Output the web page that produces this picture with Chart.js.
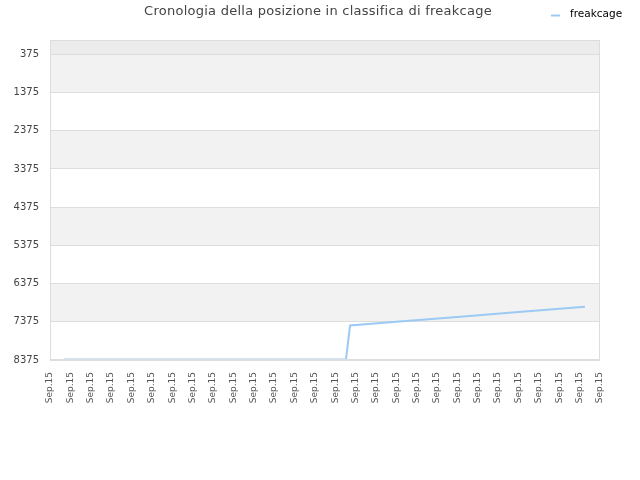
<!DOCTYPE html>
<html>
<head>
<meta charset="utf-8">
<script src="https://cdn.jsdelivr.net/npm/chart.js@4"></script>
<style>
html,body{margin:0;padding:0;background:#fff;}
#wrap{width:640px;height:480px;}
</style>
</head>
<body>
<div id="wrap"><canvas id="c" width="640" height="480"></canvas></div>
<script>
const chartTitle = "Cronologia della posizione in classifica di freakcage";
const seriesName = "freakcage";
const xLabels = ["Sep.15","Sep.15","Sep.15","Sep.15","Sep.15","Sep.15","Sep.15","Sep.15","Sep.15","Sep.15","Sep.15","Sep.15","Sep.15","Sep.15","Sep.15","Sep.15","Sep.15","Sep.15","Sep.15","Sep.15","Sep.15","Sep.15","Sep.15","Sep.15","Sep.15","Sep.15","Sep.15","Sep.15"];
const yTicks = [375,1375,2375,3375,4375,5375,6375,7375,8375];
const pointX = [0.69, 4, 8, 12, 14.53, 14.73, 17, 20, 23, 26.26];
const pointRank = [8360, 8360, 8360, 8360, 8360, 7473, 7375, 7250, 7120, 6982];

const lineColor = '#9ccaf5';
const data = pointX.map((x,i)=>({x:x,y:pointRank[i]}));

const bandsPlugin = {
  id:'bands',
  beforeDraw(chart){
    const {ctx, chartArea:a, scales:{y}} = chart;
    ctx.save();
    const t0 = y.getPixelForValue(yTicks[0]);
    ctx.fillStyle = '#ececec';
    ctx.fillRect(a.left, a.top, a.right-a.left, t0-a.top);
    for(let i=0;i<yTicks.length-1;i++){
      if(i%2===0){
        const p1 = y.getPixelForValue(yTicks[i]);
        const p2 = y.getPixelForValue(yTicks[i+1]);
        ctx.fillStyle = '#f2f2f2';
        ctx.fillRect(a.left, p1, a.right-a.left, p2-p1);
      }
    }
    ctx.restore();
  }
};
const textPlugin = {
  id:'ctext',
  afterDraw(chart){
    const ctx = chart.ctx;
    const a = chart.chartArea;
    const xs = chart.scales.x;
    ctx.save();
    ctx.font = '13px "DejaVu Sans"';
    ctx.fillStyle = '#444';
    ctx.textAlign = 'center';
    ctx.textBaseline = 'middle';
    if ('letterSpacing' in ctx) ctx.letterSpacing = '0.25px';
    ctx.fillText(chartTitle, 318, 12);
    ctx.restore();
    // legend
    const ds = chart.data.datasets[0];
    ctx.save();
    ctx.strokeStyle = ds.borderColor;
    ctx.lineWidth = 2;
    ctx.beginPath();
    ctx.moveTo(551, 15.5);
    ctx.lineTo(560, 15.5);
    ctx.stroke();
    ctx.font = '10.5px "DejaVu Sans"';
    ctx.fillStyle = '#000';
    ctx.textAlign = 'left';
    ctx.textBaseline = 'middle';
    ctx.fillText(ds.label, 570, 14.5);
    ctx.restore();
    // x tick labels (rotated)
    ctx.save();
    ctx.font = '9px "DejaVu Sans"';
    ctx.fillStyle = '#555';
    ctx.textAlign = 'right';
    ctx.textBaseline = 'middle';
    xLabels.forEach((lab,i)=>{
      const px = xs.getPixelForValue(i);
      ctx.save();
      ctx.translate(px, a.bottom + 12);
      ctx.rotate(-Math.PI/2);
      ctx.fillText(lab, 0, 0);
      ctx.restore();
    });
    ctx.restore();
  }
};
const borderPlugin = {
  id:'cborder',
  afterDatasetsDraw(chart){
    const {ctx, chartArea:a} = chart;
    ctx.save();
    ctx.strokeStyle = '#dddddd';
    ctx.lineWidth = 1;
    ctx.strokeRect(a.left+0.5, a.top+0.5, a.right-a.left-1, a.bottom-a.top-1);
    ctx.restore();
  }
};

new Chart(document.getElementById('c'), {
  type:'line',
  data:{datasets:[{
    label:seriesName,
    data:data,
    borderColor:lineColor,
    backgroundColor:lineColor,
    borderWidth:2,
    pointRadius:0,
    fill:false,
    tension:0
  }]},
  options:{
    responsive:false,
    animation:false,
    devicePixelRatio:1,
    layout:{padding:{left:0,right:40,top:40,bottom:0}},
    plugins:{
      title:{display:false},
      tooltip:{enabled:false},
      legend:{display:false}
    },
    scales:{
      x:{
        type:'linear', min:0, max:xLabels.length-1,
        grid:{display:false, drawTicks:false},
        border:{display:false},
        afterFit:(s)=>{ s.height = 120; },
        ticks:{display:false, stepSize:1}
      },
      y:{
        reverse:true, min:1, max:8375,
        afterBuildTicks:(s)=>{ s.ticks = yTicks.map(v=>({value:v})); },
        afterFit:(s)=>{ s.width = 50; },
        grid:{color:'#dddddd', drawTicks:false},
        border:{display:false},
        ticks:{padding:11, color:'#444', font:{family:'"DejaVu Sans"', size:10},
          callback:(v)=>String(v)}
      }
    }
  },
  plugins:[bandsPlugin, textPlugin, borderPlugin]
});
</script>
</body>
</html>
